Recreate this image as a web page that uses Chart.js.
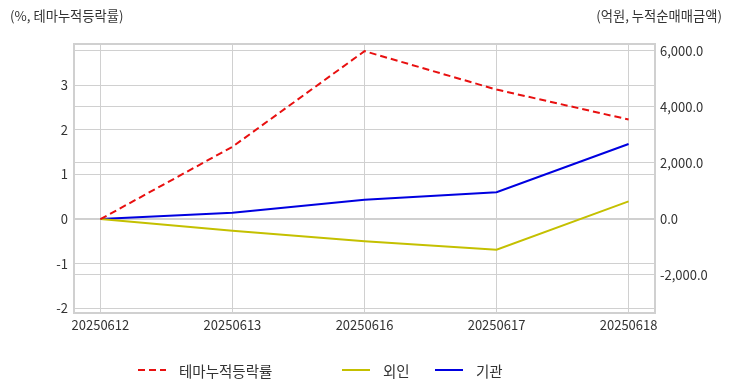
<!DOCTYPE html>
<html>
<head>
<meta charset="utf-8">
<script src="https://cdn.jsdelivr.net/npm/chart.js@4"></script>
<style>
  body { margin: 0; background: #fff; font-family: "Noto Sans CJK KR", sans-serif; color: #333; }
  #wrap { position: relative; width: 732px; height: 392px; }
  .hdr { position: absolute; top: 6px; font-size: 13.3px; color: #333; }
  #legend { position: absolute; top: 360px; left: 0; width: 732px; height: 20px; font-size: 14.5px; color: #333; }
  .item { position: absolute; top: 0; display: flex; align-items: center; height: 20px; }
  .item span.line { display: inline-block; width: 28px; height: 2px; margin-right: 13px; }
</style>
</head>
<body>
<div id="wrap">
  <canvas id="myChart" width="732" height="392"></canvas>
  <div class="hdr" style="left:10px">(%, 테마누적등락률)</div>
  <div class="hdr" style="right:10px">(억원, 누적순매매금액)</div>
  <div id="legend"></div>
</div>
<script>
// dates / series
let dates = ["20250612", "20250613", "20250616", "20250617", "20250618"];
let themeRate = [0, 1.62, 3.76, 2.90, 2.23];      // %, left axis
let foreign = [0, -418, -800, -1096, 629];        // 억원, right axis
let institution = [0, 225, 690, 957, 2679];       // 억원, right axis

// tick values
let leftTicks = [-2, -1, 0, 1, 2, 3];
let rightTicks = [-2000, 0, 2000, 4000, 6000];

let seriesNames = ["테마누적등락률", "외인", "기관"];
let seriesColors = ["#e81010", "#c4c000", "#0000e0"];

const toPts = arr => arr.map((v, i) => ({ x: i, y: v }));
const setTicks = vals => s => { s.ticks = vals.map(v => ({ value: v })); };

// frame round the plot area
const framePlugin = {
    id: "frame",
    afterDraw(chart) {
        const a = chart.chartArea, ctx = chart.ctx;
        ctx.save();
        ctx.strokeStyle = "#d0d0d0";
        ctx.lineWidth = 2;
        ctx.strokeRect(a.left, a.top, a.right - a.left, a.bottom - a.top);
        ctx.restore();
    }
};

Chart.defaults.font.family = '"Noto Sans CJK KR", sans-serif';
Chart.defaults.font.size = 13;
Chart.defaults.color = "#333";

const chartData = {
    type: "line",
    data: {
        datasets: [
            {
                label: seriesNames[0],
                data: toPts(themeRate),
                borderColor: seriesColors[0],
                borderDash: [7, 4],
                yAxisID: "yL"
            },
            {
                label: seriesNames[1],
                data: toPts(foreign),
                borderColor: seriesColors[1],
                yAxisID: "yR"
            },
            {
                label: seriesNames[2],
                data: toPts(institution),
                borderColor: seriesColors[2],
                yAxisID: "yR"
            }
        ]
    },
    options: {
        responsive: false,
        animation: false,
        layout: { padding: { top: 44, left: 0, right: 0, bottom: 0 } },
        elements: {
            line: { borderWidth: 2, tension: 0 },
            point: { radius: 0 }
        },
        plugins: {
            legend: { display: false },
            tooltip: { enabled: false }
        },
        scales: {
            x: {
                type: "linear",
                min: -0.2,
                max: 4.2,
                grid: { color: "#d0d0d0", drawTicks: false },
                border: { display: false },
                afterBuildTicks: setTicks(dates.map((d, i) => i)),
                ticks: {
                    autoSkip: false,
                    maxRotation: 0,
                    padding: 4,
                    callback: v => dates[v]
                },
                afterFit: s => { s.height = 392 - 44 - 269; }
            },
            yL: {
                position: "left",
                min: -2.1,
                max: 3.92,
                grid: { color: "#d0d0d0", drawTicks: false },
                border: { display: false },
                afterBuildTicks: setTicks(leftTicks),
                ticks: { padding: 6 },
                afterFit: s => { s.width = 74; }
            },
            yR: {
                position: "right",
                min: -3360,
                max: 6250,
                grid: { color: "#d0d0d0", drawTicks: false },
                border: { display: false },
                afterBuildTicks: setTicks(rightTicks),
                ticks: {
                    padding: 5,
                    callback: v => v.toLocaleString("en-US", { minimumFractionDigits: 1, maximumFractionDigits: 1 })
                },
                afterFit: s => { s.width = 77; }
            }
        }
    },
    plugins: [framePlugin]
};

let myChart = new Chart("myChart", chartData);

// legend
let legendX = [138, 342, 435];
let legend = document.getElementById("legend");
seriesNames.forEach((name, i) => {
    let item = document.createElement("div");
    item.className = "item";
    item.style.left = legendX[i] + "px";
    let line = document.createElement("span");
    line.className = "line";
    if (i === 0) {
        line.style.background = "repeating-linear-gradient(to right, " + seriesColors[i] + " 0 7px, transparent 7px 11px)";
    } else {
        line.style.background = seriesColors[i];
    }
    item.appendChild(line);
    item.appendChild(document.createTextNode(name));
    legend.appendChild(item);
});
</script>
</body>
</html>
